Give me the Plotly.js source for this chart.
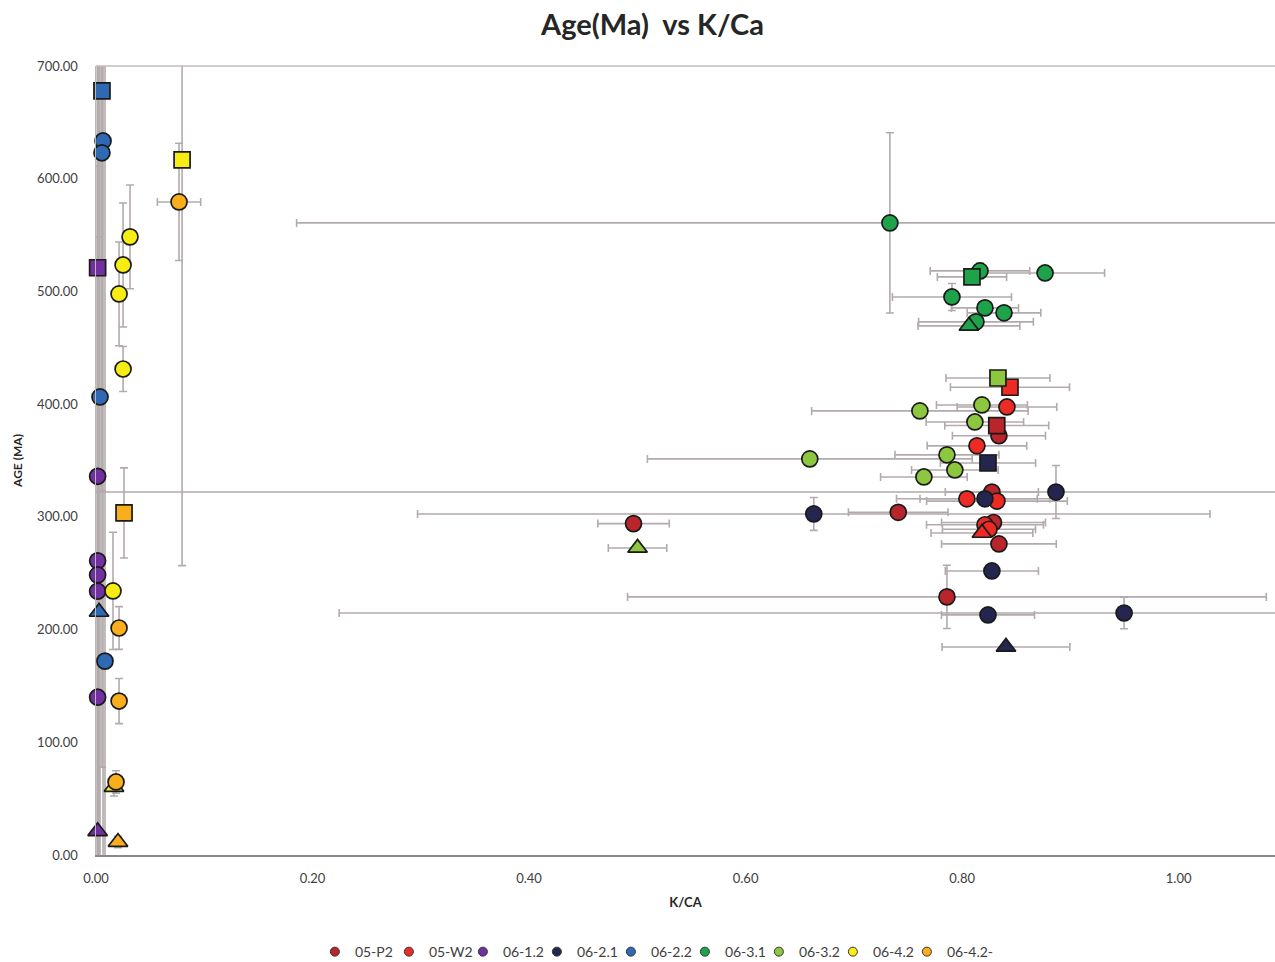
<!DOCTYPE html>
<html>
<head>
<meta charset="utf-8">
<script src="https://cdn.plot.ly/plotly-3.0.1.min.js"></script>
<style>html,body{margin:0;padding:0;background:#fff;}#chart{width:1275px;height:962px;}</style>
</head>
<body>
<div id="chart"></div>
<script>
// ---- data ----
const seriesNames = ["05-P2","05-W2","06-1.2","06-2.1","06-2.2","06-3.1","06-3.2","06-4.2","06-4.2-"];
const seriesColors = ["#b8252a","#ee2a24","#7030a0","#25264f","#3069b3","#1ea24a","#8dc63f","#f7ec13","#f9ae1b"];

// 05-P2
const p2_x   = [0.8275, 0.834, 0.4965, 0.741, 0.829, 0.834, 0.786, 0.832];
const p2_y   = [322, 372, 294, 304, 295, 276, 229, 381];
const p2_ex  = [0.043, 0.043, 0.033, 0.046, 0.048, 0.053, 0.295, 0.048];
const p2_ey  = [3, 3, 3, 3, 3, 3, 28, 3];
const p2_sym = ["circle","circle","circle","circle","circle","circle","circle","square"];
// 05-W2
const w2_x   = [0.8414, 0.8137, 0.8044, 0.8322, 0.8211, 0.8248, 0.8183, 0.8442];
const w2_y   = [397.5, 363, 316, 314, 293, 289, 285.7, 415];
const w2_ex  = [0.046, 0.046, 0.065, 0.065, 0.054, 0.043, 0.047, 0.055];
const w2_ey  = [3, 3, 3, 3, 3, 3, 3, 3];
const w2_sym = ["circle","circle","circle","circle","circle","circle","triangle-up","square"];
// 06-1.2
const p12_x   = [0.0015, 0.0015, 0.0015, 0.0015, 0.0015, 0.0015, 0.0015];
const p12_y   = [336, 261, 248.5, 234, 140, 521, 21];
const p12_ex  = [0.002, 0.002, 0.002, 0.002, 0.002, 0.002, 0.002];
const p12_ey  = [400, 350, 300, 500, 600, 550, 700];
const p12_sym = ["circle","circle","circle","circle","circle","square","triangle-up"];
// 06-2.1
const p21_x   = [0.8867, 0.8211, 0.663, 0.8275, 0.8239, 0.9496, 0.8239, 0.8405];
const p21_y   = [322, 316, 302.6, 252, 213, 214.7, 347.8, 184.6];
const p21_ex  = [1.0, 0.06, 0.366, 0.043, 0.043, 0.725, 0.044, 0.059];
const p21_ey  = [23.5, 3, 14.6, 3, 3, 14, 3, 3];
const p21_sym = ["circle","circle","circle","circle","circle","circle","square","triangle-up"];
// 06-2.2
const p22_x   = [0.0065, 0.0055, 0.0037, 0.0083, 0.0055, 0.0028];
const p22_y   = [633.5, 623, 406.4, 172, 678, 215.6];
const p22_ex  = [0.002, 0.002, 0.002, 0.002, 0.002, 0.002];
const p22_ey  = [640, 300, 450, 700, 600, 500];
const p22_sym = ["circle","circle","circle","circle","square","triangle-up"];
// 06-3.1
const p31_x   = [0.7333, 0.8165, 0.8766, 0.7906, 0.8211, 0.8387, 0.8128, 0.8091, 0.8063];
const p31_y   = [560.8, 518.2, 516.4, 495.1, 485.4, 481, 473, 512.9, 469.4];
const p31_ex  = [0.548, 0.046, 0.055, 0.055, 0.031, 0.034, 0.053, 0.032, 0.047];
const p31_ey  = [80, 7, 3, 12, 3, 3, 3, 3, 3];
const p31_sym = ["circle","circle","circle","circle","circle","circle","circle","square","triangle-up"];
// 06-3.2
const p32_x   = [0.8183, 0.761, 0.8118, 0.6593, 0.786, 0.7933, 0.7647, 0.8331, 0.5002];
const p32_y   = [399.3, 394, 384.2, 351.4, 355, 341.6, 335.4, 423.2, 272.4];
const p32_ex  = [0.042, 0.1, 0.045, 0.15, 0.048, 0.04, 0.04, 0.048, 0.027];
const p32_ey  = [3, 3, 3, 3, 3, 3, 3, 3, 3];
const p32_sym = ["circle","circle","circle","circle","circle","circle","circle","square","triangle-up"];
// 06-4.2
const p42_x   = [0.0314, 0.025, 0.0213, 0.025, 0.0157, 0.0795, 0.0166];
const p42_y   = [548.4, 523.5, 497.8, 431.2, 234.3, 616.7, 60.3];
const p42_ex  = [0.002, 0.002, 0.002, 0.002, 0.002, 0.002, 0.002];
const p42_ey  = [46, 55, 46, 20, 52, 360, 8];
const p42_sym = ["circle","circle","circle","circle","circle","square","triangle-up"];
// 06-4.2-
const p42b_x   = [0.0767, 0.0213, 0.0213, 0.0185, 0.0259, 0.0203];
const p42b_y   = [579.4, 201.4, 136.6, 64.8, 303.5, 11.5];
const p42b_ex  = [0.02, 0.002, 0.002, 0.002, 0.002, 0.002];
const p42b_ey  = [52, 19, 20, 10, 40, 5];
const p42b_sym = ["circle","circle","circle","circle","square","triangle-up"];

const xTickVals = [0, 0.2, 0.4, 0.6, 0.8, 1.0];
const yTickVals = [0, 100, 200, 300, 400, 500, 600, 700];

// ---- build traces ----
const all = [
  [p2_x, p2_y, p2_ex, p2_ey, p2_sym],
  [w2_x, w2_y, w2_ex, w2_ey, w2_sym],
  [p12_x, p12_y, p12_ex, p12_ey, p12_sym],
  [p21_x, p21_y, p21_ex, p21_ey, p21_sym],
  [p22_x, p22_y, p22_ex, p22_ey, p22_sym],
  [p31_x, p31_y, p31_ex, p31_ey, p31_sym],
  [p32_x, p32_y, p32_ex, p32_ey, p32_sym],
  [p42_x, p42_y, p42_ex, p42_ey, p42_sym],
  [p42b_x, p42b_y, p42b_ex, p42b_ey, p42b_sym]
];
const errColor = "#b3abab";
const traces = [];
// error bars first (clipped to plot area), underneath every marker
all.forEach((s, i) => {
  traces.push({
    type: "scatter", mode: "markers", name: seriesNames[i] + " err", showlegend: false, hoverinfo: "skip",
    x: s[0], y: s[1],
    error_x: {type: "data", array: s[2], visible: true, color: errColor, thickness: 1.6, width: 4},
    error_y: {type: "data", array: s[3], visible: true, color: errColor, thickness: 1.6, width: 4},
    marker: {size: 1, opacity: 0, color: seriesColors[i]},
    cliponaxis: true
  });
});
// markers (not clipped, so points at x≈0 show fully)
all.forEach((s, i) => {
  traces.push({
    type: "scatter", mode: "markers", name: seriesNames[i], showlegend: false,
    x: s[0], y: s[1],
    marker: {
      color: seriesColors[i], symbol: s[4], opacity: 1,
      size: s[4].map(v => v === "triangle-up" ? 17 : 16),
      line: {color: "#1a1a1a", width: 1.7}
    },
    cliponaxis: false
  });
});
// legend entries
seriesNames.forEach((n, i) => {
  traces.push({
    type: "scatter", mode: "markers", name: n, x: [null], y: [null], showlegend: true,
    legendwidth: i === seriesNames.length - 1 ? 50 : undefined,
    marker: {color: seriesColors[i], symbol: "circle", size: 9, opacity: 1, line: {color: "#333", width: 1}}
  });
});

const layout = {
  width: 1275, height: 962,
  paper_bgcolor: "#ffffff", plot_bgcolor: "#ffffff",
  margin: {l: 96, r: 0, t: 66, b: 107, autoexpand: false},
  font: {family: "Lato, 'Open Sans', sans-serif", color: "#404040"},
  title: {text: "Age(Ma)  vs K/Ca", font: {family: "Lato, 'Open Sans', sans-serif", size: 29, color: "#262626", weight: "bold"},
          x: 0.472, xref: "paper", xanchor: "center", y: 0.974, yref: "container", yanchor: "middle"},
  xaxis: {
    range: [0, 1.089], tickvals: xTickVals, tickformat: ".2f", showgrid: false, zeroline: false,
    showline: true, linecolor: "#8c8888", linewidth: 2, ticks: "", ticklabelstandoff: 10,
    tickfont: {size: 13, color: "#404040"},
    title: {text: "K/CA", font: {size: 13, color: "#262626", weight: "bold"}, standoff: 13}
  },
  yaxis: {
    range: [0, 700], tickvals: yTickVals, tickformat: ".2f", showgrid: false, zeroline: false,
    showline: true, linecolor: "#bdb8b8", linewidth: 1.5, ticks: "", ticklabelstandoff: 14,
    tickfont: {size: 13, color: "#404040"},
    title: {text: "AGE (MA)", font: {size: 12, color: "#262626", weight: "bold"}, standoff: 12}
  },
  shapes: [{type: "line", xref: "paper", yref: "paper", x0: 0, x1: 1, y0: 1, y1: 1, line: {color: "#c2bdbd", width: 1.5}}],
  legend: {
    orientation: "h", x: 0.477, xanchor: "center", y: -0.123, yanchor: "middle",
    font: {size: 14, color: "#404040"}, itemwidth: 30, entrywidth: 29, entrywidthmode: "pixels",
    bgcolor: "rgba(0,0,0,0)", tracegroupgap: 0
  }
};

Plotly.newPlot("chart", traces, layout, {displayModeBar: false, staticPlot: true});
</script>
</body>
</html>
